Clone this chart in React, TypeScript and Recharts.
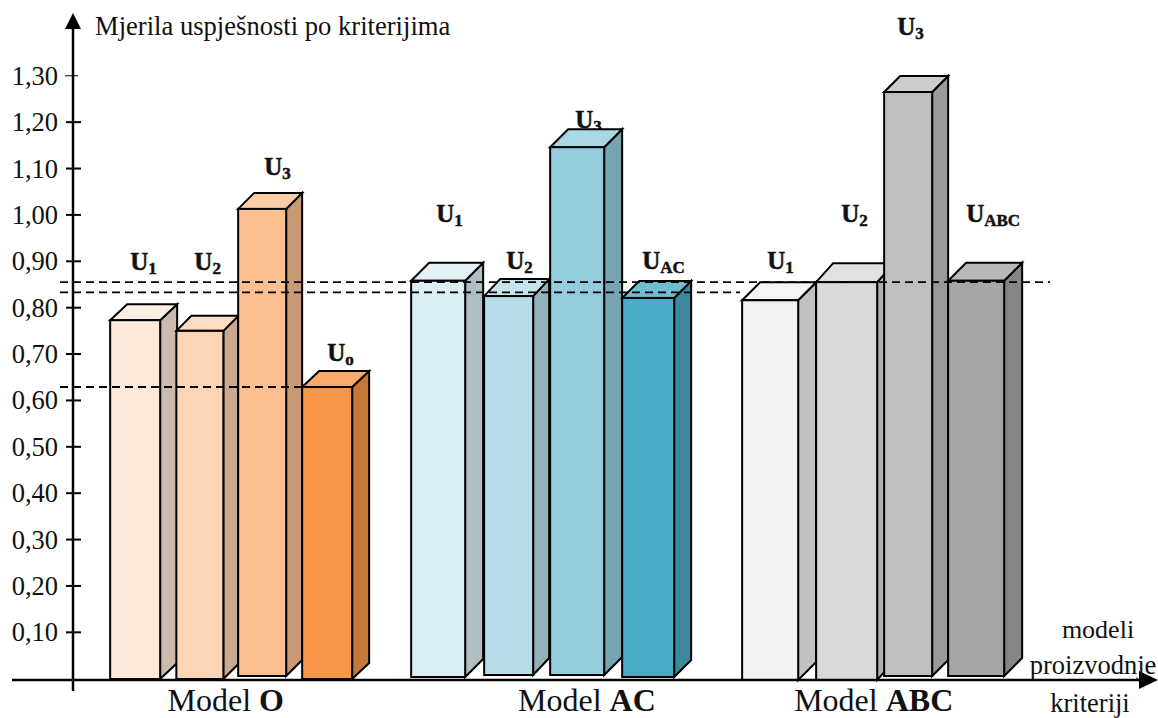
import React from "react";
import { ComposedChart, Bar, XAxis, YAxis, ReferenceLine } from "recharts";

// ---- data ----
const CATEGORIES = ["O-U1", "O-U2", "O-U3", "O-Uo", "gap1", "AC-U1", "AC-U2", "AC-U3", "AC-UAC", "gap2", "ABC-U1", "ABC-U2", "ABC-U3", "ABC-UABC"];
const VALUES = [0.773, 0.75, 1.013, 0.629, null, 0.858, 0.825, 1.146, 0.821, null, 0.816, 0.855, 1.265, 0.858];
const LABEL_SUBS = ["1", "2", "3", "o", "", "1", "2", "3", "AC", "", "1", "2", "3", "ABC"];
const Y_TICKS = [0.1, 0.2, 0.3, 0.4, 0.5, 0.6, 0.7, 0.8, 0.9, 1.0, 1.1, 1.2, 1.3];
const GROUP_TICKS = ["O-U2", "AC-U3", "ABC-U2"];
const GROUP_NAMES = ["O", "AC", "ABC"];
const REF_VALUES = [0.855, 0.833, 0.629];

// ---- styling (indexed by slot) ----
const FRONT = ["#FBE9DB", "#FBD5B5", "#FAC090", "#F79646", "", "#DBEEF4", "#B7DEE8", "#93CDDD", "#4BACC6", "", "#F2F2F2", "#D9D9D9", "#BFBFBF", "#A6A6A6"];
const TOP = ["#FCEEE2", "#FCDDC4", "#FBCDA6", "#F9AB6B", "", "#E2F1F6", "#C5E4ED", "#A9D7E4", "#6FBDD1", "", "#F5F5F5", "#E1E1E1", "#CCCCCC", "#B8B8B8"];
const SIDE = ["#CBBBAF", "#C9AA91", "#C89A73", "#C67838", "", "#AFBEC3", "#92B2BA", "#76A4B1", "#3C899E", "", "#C2C2C2", "#AEAEAE", "#999999", "#858585"];
const WIDTHS = [50, 47, 48, 50, 0, 54, 49, 54, 52, 0, 56, 61, 48, 56];
const SHIFTS = [0, 0, -2.4, -2.1, 0, -20.5, -14.7, -10.9, -4.6, 0, -12, -0.2, -3.4, -0.1];
const INSETS = [-0.3, -0.3, 2.7, -0.3, 0, 1.7, 3.7, 3.7, 1.7, 0, -1.3, -1.3, 2.7, 2.7];
const DEPTH_X = [17, 15, 16, 17, 0, 18, 16, 18, 17, 0, 18, 17, 16, 18];
const DEPTH_Y = [16, 15, 16, 16, 0, 18, 17, 18, 17, 0, 18, 19, 16, 18];
const LABEL_DX = [20, 18, 26, 25, 0, 25, 22, 25, 20, 0, 25, 25, 13, 18];
const LABEL_DY = [-50, -61, -34, -26, 0, -59, -27, -19, -29, 0, -31, -60, -57, -59];
const REF_SPANS = [[60, 1050], [60, 740], [60, 304]];
const GROUP_DX = [26, -1, 27];

const SERIF = "'Liberation Serif', serif";
const rows = CATEGORIES.map((category, i) => ({ category, value: VALUES[i], slot: i }));

function Bar3D(props: any) {
  const { x, y, width, height, payload } = props;
  const i = payload.slot;
  if (payload.value == null) return null;
  const w = WIDTHS[i];
  const left = x + width / 2 + SHIFTS[i] - w / 2;
  const right = left + w;
  const top = y;
  const bottom = y + height - INSETS[i];
  const dx = DEPTH_X[i];
  const dy = DEPTH_Y[i];
  const line = { stroke: "#000", strokeWidth: 2, strokeLinejoin: "miter" as const };
  return (
    <g>
      <text x={left + LABEL_DX[i]} y={top + LABEL_DY[i]} fontFamily={SERIF} fontWeight="bold" fontSize={25} fill="#111" stroke="#111" strokeWidth={0.5}>
        U
        <tspan fontSize={17} dy={4}>{LABEL_SUBS[i]}</tspan>
      </text>
      <polygon points={`${right},${top} ${right + dx},${top - dy} ${right + dx},${bottom - dy} ${right},${bottom}`} fill={SIDE[i]} {...line} />
      <polygon points={`${left},${top} ${left + dx},${top - dy} ${right + dx},${top - dy} ${right},${top}`} fill={TOP[i]} {...line} />
      <rect x={left} y={top} width={w} height={bottom - top} fill={FRONT[i]} {...line} />
    </g>
  );
}

function YTick(props: any) {
  const { y, payload } = props;
  const isTop = payload.value > 1.25;
  return (
    <g>
      <line x1={isTop ? 65 : 66} x2={isTop ? 78 : 81} y1={y} y2={y} stroke="#000" strokeWidth={isTop ? 1 : 2} />
      <text x={58} y={y + 9} textAnchor="end" fontFamily={SERIF} fontSize={26.5} fill="#111">
        {payload.value.toFixed(2).replace(".", ",")}
      </text>
    </g>
  );
}

function XTick(props: any) {
  const { x, payload } = props;
  const k = GROUP_TICKS.indexOf(payload.value);
  if (k < 0) return null;
  return (
    <text x={x + GROUP_DX[k]} y={711} textAnchor="middle" fontFamily={SERIF} fontSize={32} fill="#111">
      Model <tspan fontWeight="bold">{GROUP_NAMES[k]}</tspan>
    </text>
  );
}

function RefShape(k: number) {
  return (p: any) => (
    <line x1={REF_SPANS[k][0]} x2={REF_SPANS[k][1]} y1={p.y1} y2={p.y1} stroke="#000" strokeWidth={1.8} strokeDasharray="8 5" />
  );
}

export default function App() {
  return (
    <div style={{ position: "absolute", left: 0, top: 0, width: 1158, height: 718, background: "#fff", overflow: "hidden" }}>
      <ComposedChart
        width={1158}
        height={718}
        data={rows}
        margin={{ top: 29.4, right: 18, bottom: 0, left: 0 }}
        barCategoryGap={0}
      >
        <YAxis
          type="number"
          domain={[-0.0028, 1.4]}
          ticks={Y_TICKS}
          interval={0}
          width={73}
          tickLine={false}
          tick={<YTick />}
          axisLine={{ stroke: "#000", strokeWidth: 2.5 }}
        />
        <XAxis
          dataKey="category"
          type="category"
          height={38}
          ticks={GROUP_TICKS}
          interval={0}
          padding={{ left: 29.65, right: 131.55 }}
          tickLine={false}
          tick={<XTick />}
          axisLine={{ stroke: "#000", strokeWidth: 2.5 }}
        />
        <Bar dataKey="value" isAnimationActive={false} shape={<Bar3D />} />
        {REF_VALUES.map((v, k) => (
          <ReferenceLine key={k} y={v} shape={RefShape(k)} />
        ))}
        {/* axis extensions and arrowheads */}
        <line x1={12} x2={73} y1={680} y2={680} stroke="#000" strokeWidth={2.5} />
        <line x1={73} x2={73} y1={680} y2={691} stroke="#000" strokeWidth={2.5} />
        <line x1={73} x2={73} y1={20} y2={30} stroke="#000" strokeWidth={2.5} />
        <polygon points="73,13 65,29 81,29" fill="#000" />
        <polygon points="1158,680 1139,671 1139,689" fill="#000" />
        <text x={95} y={35} fontFamily={SERIF} fontSize={26.6} fill="#111">Mjerila uspješnosti po kriterijima</text>
        <text x={1098} y={638} textAnchor="middle" fontFamily={SERIF} fontSize={26} fill="#111">modeli</text>
        <text x={1093} y={674} textAnchor="middle" fontFamily={SERIF} fontSize={26.5} fill="#111">proizvodnje</text>
        <text x={1090} y={712} textAnchor="middle" fontFamily={SERIF} fontSize={26.5} fill="#111">kriteriji</text>
      </ComposedChart>
    </div>
  );
}
